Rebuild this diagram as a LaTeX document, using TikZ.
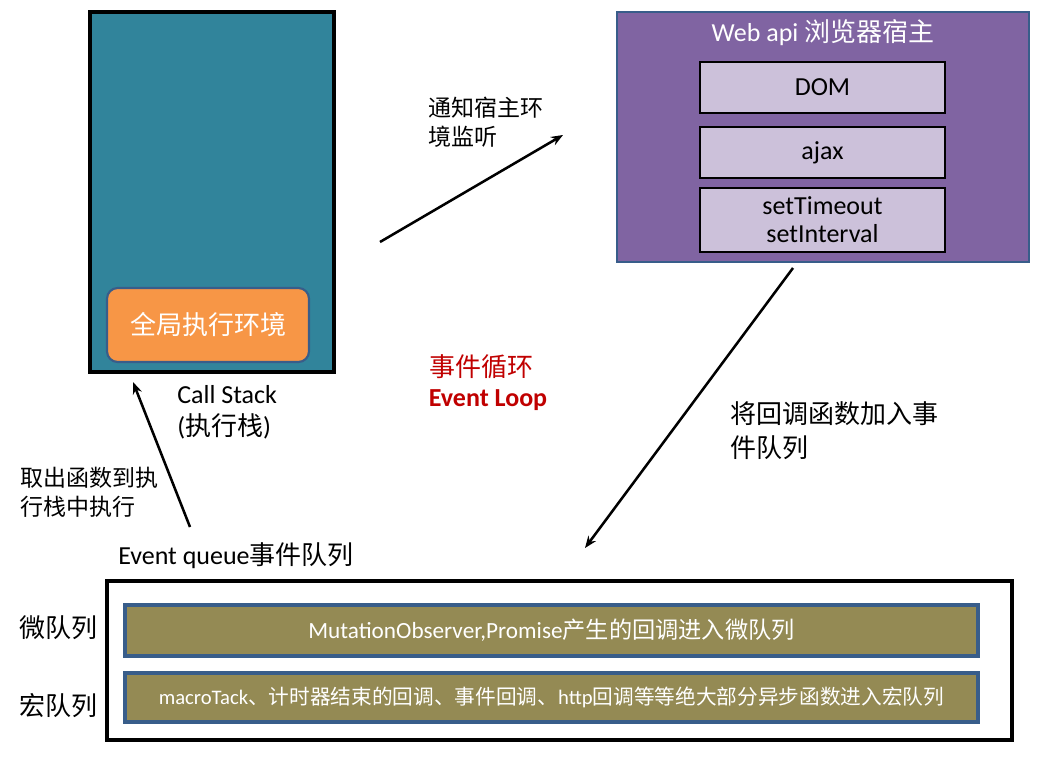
\documentclass[tikz,border=0pt]{standalone}
\usepackage{fontspec}
\setmainfont{Carlito}
\newfontfamily\cjk{Noto Sans CJK SC}
\usetikzlibrary{arrows.meta}
\definecolor{stackfill}{HTML}{31849B}
\definecolor{orangefill}{HTML}{F79646}
\definecolor{shapeline}{HTML}{385D8A}
\definecolor{webfill}{HTML}{8064A2}
\definecolor{apifill}{HTML}{CCC1DA}
\definecolor{olivefill}{HTML}{948A54}
\definecolor{loopred}{HTML}{C00000}
\tikzset{
  stackbox/.style={draw=black, line width=2.4pt, fill=stackfill, minimum width=183pt, minimum height=270pt, inner sep=0pt},
  ctxbox/.style={draw=shapeline, line width=1.6pt, fill=orangefill, rounded corners=8pt, minimum width=151.5pt, minimum height=55.5pt, text=white, font=\fontsize{19.5}{23}\selectfont\cjk},
  webbox/.style={draw=shapeline, line width=1.9pt, fill=webfill, minimum width=309pt, minimum height=187.5pt, inner sep=0pt},
  apibox/.style={draw=black, line width=2pt, fill=apifill, minimum width=183.75pt, inner sep=0pt, font=\fontsize{19.5}{24}\selectfont, align=center},
  queuebox/.style={draw=black, line width=2.4pt, fill=white, minimum width=678.75pt, minimum height=119.25pt, inner sep=0pt},
  barbox/.style={draw=shapeline, line width=2.4pt, fill=olivefill, minimum width=639.75pt, inner sep=0pt, text=white},
  lbl/.style={inner sep=0pt, align=left, font=\fontsize{19.5}{24}\selectfont},
  note/.style={inner sep=0pt, align=left, font=\fontsize{17.25}{21.5}\selectfont\cjk},
  flow/.style={line width=1.9pt, -{Stealth[length=9pt, width=7pt]}},
}
\begin{document}
\begin{tikzpicture}[x=0.75pt, y=-0.75pt]
\useasboundingbox (0,0) rectangle (1041,759);

% Call stack
\node[stackbox] (cs) at (212,192) {};
\node[ctxbox] (gec) at (208,325) {全局执行环境};
\node[lbl, anchor=north west] (cslbl) at (177,385) {Call Stack\\({\cjk 执行栈})};

% Web api
\node[webbox] (web) at (823,137) {};
\node[inner sep=0pt, text=white, font=\fontsize{19.5}{24}\selectfont] (webtitle) at (823,33) {Web api {\cjk 浏览器宿主}};
\node[apibox, minimum height=38.25pt] (dom) at (822.5,87.5) {DOM};
\node[apibox, minimum height=38.25pt] (ajax) at (822.5,152.5) {ajax};
\node[apibox, minimum height=48pt] (timer) at (822.5,220) {setTimeout\\[-3pt]setInterval};

% Event loop label
\node[inner sep=0pt, text=loopred, font=\fontsize{19.5}{24}\selectfont\cjk] (loopcn) at (481,367) {事件循环};
\node[inner sep=0pt, text=loopred, font=\fontsize{19.5}{24}\selectfont\bfseries] (loopen) at (488,400) {Event Loop};

% Event queue
\node[lbl, anchor=west] (eqlbl) at (118,556) {Event queue{\cjk 事件队列}};
\node[queuebox] (queue) at (559.5,660.5) {};
\node[barbox, minimum height=38.25pt, font=\fontsize{17.4}{21}\selectfont] (micro) at (551.5,630.5) {MutationObserver,Promise{\cjk 产生的回调进入微队列}};
\node[barbox, minimum height=36.75pt, font=\fontsize{15.5}{19}\selectfont] (macro) at (551.5,697.5) {macroTack{\cjk 、计时器结束的回调、事件回调、}http{\cjk 回调等等绝大部分异步函数进入宏队列}};
\node[inner sep=0pt, font=\fontsize{19.5}{24}\selectfont\cjk] (microlbl) at (58,628) {微队列};
\node[inner sep=0pt, font=\fontsize{19.5}{24}\selectfont\cjk] (macrolbl) at (58,706) {宏队列};

% Arrows
\coordinate (a1s) at (380,242);
\coordinate (a1e) at (563,135);
\draw[flow] (a1s) -- (a1e);
\node[note, anchor=north west] (n1) at (428,97) {通知宿主环\\境监听};

\coordinate (a2s) at (793,268);
\coordinate (a2e) at (585,548);
\draw[flow] (a2s) -- (a2e);
\node[note, anchor=north west, font=\fontsize{19.5}{26}\selectfont\cjk] (n2) at (730,401) {将回调函数加入事\\件队列};

\coordinate (a3s) at (190,527);
\coordinate (a3e) at (133,382);
\draw[flow] (a3s) -- (a3e);
\node[note, anchor=north west] (n3) at (20,467) {取出函数到执\\行栈中执行};
\end{tikzpicture}
\end{document}
